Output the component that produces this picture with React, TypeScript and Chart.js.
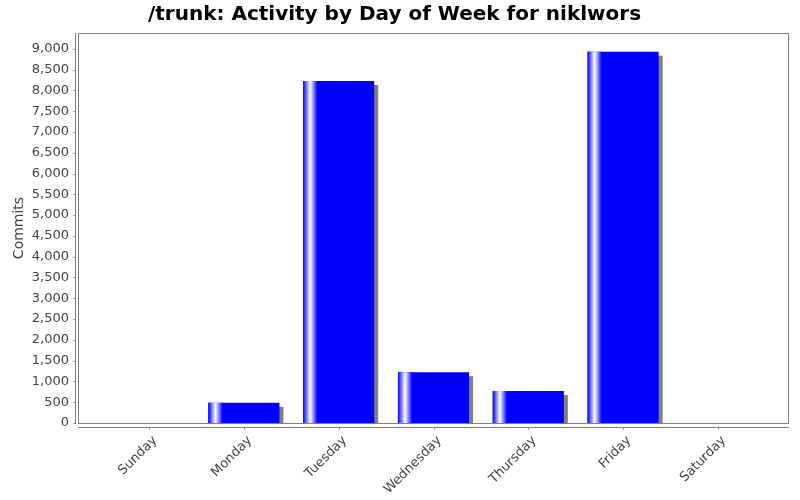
import React, { useEffect, useRef } from "react";
import { Chart, registerables } from "chart.js";

Chart.register(...registerables);

const titleText = "/trunk: Activity by Day of Week for niklwors";
const days = ["Sunday", "Monday", "Tuesday", "Wednesday", "Thursday", "Friday", "Saturday"];
const commits = [0, 485, 8225, 1222, 770, 8930, 0];
const yTicks = [0, 500, 1000, 1500, 2000, 2500, 3000, 3500, 4000, 4500, 5000, 5500, 6000, 6500, 7000, 7500, 8000, 8500, 9000];
const yAxisTitle = "Commits";
const yMax = 9380;

const BLUE = "#0000ff";
const GRAY = "#808080";
const TEXT = "#444444";

const decor = {
  id: "decor",
  beforeDatasetsDraw(chart: any) {
    const { ctx, chartArea: a } = chart;
    const meta = chart.getDatasetMeta(0);
    ctx.save();
    ctx.beginPath();
    ctx.rect(a.left, a.top, a.right - a.left, a.bottom - a.top);
    ctx.clip();
    ctx.fillStyle = GRAY;
    meta.data.forEach((el: any, i: number) => {
      if (!commits[i]) return;
      const { x, y, base, width } = el.getProps(["x", "y", "base", "width"], true);
      ctx.fillRect(x - width / 2 + 4, y + 4, width, base - y - 4);
    });
    ctx.restore();
  },
  afterDatasetsDraw(chart: any) {
    const { ctx } = chart;
    const meta = chart.getDatasetMeta(0);
    ctx.save();
    meta.data.forEach((el: any, i: number) => {
      if (!commits[i]) return;
      const { x, y, base, width } = el.getProps(["x", "y", "base", "width"], true);
      const l = x - width / 2;
      const gw = width * 0.2;
      const g = ctx.createLinearGradient(l, 0, l + gw, 0);
      g.addColorStop(0, BLUE);
      g.addColorStop(0.5, "#ffffff");
      g.addColorStop(1, BLUE);
      ctx.fillStyle = g;
      ctx.fillRect(l, y, gw, base - y);
    });
    ctx.restore();
  },
  afterDraw(chart: any) {
    const { ctx, chartArea: a, scales } = chart;
    ctx.save();
    ctx.strokeStyle = GRAY;
    ctx.lineWidth = 1;
    ctx.strokeRect(a.left + 0.5, a.top + 0.5, a.right - a.left - 1, a.bottom - a.top);
    const yx = a.left - 2.5;
    ctx.beginPath();
    ctx.moveTo(yx, a.top);
    ctx.lineTo(yx, a.bottom + 1);
    yTicks.forEach((v) => {
      const py = Math.round(scales.y.getPixelForValue(v)) + 0.5;
      ctx.moveTo(yx - 2, py);
      ctx.lineTo(yx, py);
    });
    const xy = a.bottom + 4.5;
    ctx.moveTo(a.left, xy);
    ctx.lineTo(a.right, xy);
    days.forEach((_d, i) => {
      const px = Math.round(scales.x.getPixelForValue(i)) + 0.5;
      ctx.moveTo(px, xy);
      ctx.lineTo(px, xy + 2);
    });
    ctx.stroke();
    ctx.restore();
  },
};

export default function App() {
  const ref = useRef<HTMLCanvasElement>(null);
  useEffect(() => {
    if (!ref.current) return;
    Chart.defaults.font.family = "'DejaVu Sans', sans-serif";
    const chart = new Chart(ref.current, {
      type: "bar",
      data: {
        datasets: [
          {
            label: yAxisTitle,
            data: days.map((_d, i) => ({ x: i, y: commits[i] })),
            backgroundColor: BLUE,
            borderWidth: 0,
            barPercentage: 0.75,
            categoryPercentage: 1,
          },
        ],
      },
      options: {
        animation: false,
        responsive: false,
        maintainAspectRatio: false,
        layout: { padding: { left: 0, right: 11, top: 0, bottom: 0 } },
        plugins: {
          legend: { display: false },
          tooltip: { enabled: false },
          title: {
            display: true,
            text: titleText,
            color: "#000000",
            font: { size: 20, weight: "bold" },
            padding: { top: 3, bottom: 6 },
          },
        },
        scales: {
          x: {
            type: "linear",
            min: -0.75,
            max: 6.75,
            offset: false,
            grid: { display: false, offset: false, drawTicks: false },
            border: { display: false },
            afterBuildTicks: (s: any) => {
              s.ticks = days.map((_d, i) => ({ value: i }));
            },
            afterFit: (s: any) => {
              s.height = 77;
            },
            ticks: {
              autoSkip: false,
              minRotation: 45,
              maxRotation: 45,
              color: TEXT,
              font: { size: 13 },
              padding: 10,
              labelOffset: 6,
              callback: (v: any) => days[v as number] ?? "",
            },
          },
          y: {
            type: "linear",
            min: 0,
            max: yMax,
            grid: { display: false, drawTicks: false },
            border: { display: false },
            afterBuildTicks: (s: any) => {
              s.ticks = yTicks.map((v) => ({ value: v }));
            },
            afterFit: (s: any) => {
              s.width = 78;
            },
            title: {
              display: true,
              text: yAxisTitle,
              color: TEXT,
              font: { size: 14 },
              padding: { top: 11, bottom: 0 },
            },
            ticks: {
              autoSkip: false,
              color: TEXT,
              font: { size: 13 },
              padding: 9,
              callback: (v: any) => Number(v).toLocaleString("en-US"),
            },
          },
        },
      },
      plugins: [decor],
    });
    return () => chart.destroy();
  }, []);
  return (
    <div style={{ position: "fixed", left: 0, top: 0, width: 800, height: 500, background: "#fff" }}>
      <canvas ref={ref} width={800} height={500} />
    </div>
  );
}
